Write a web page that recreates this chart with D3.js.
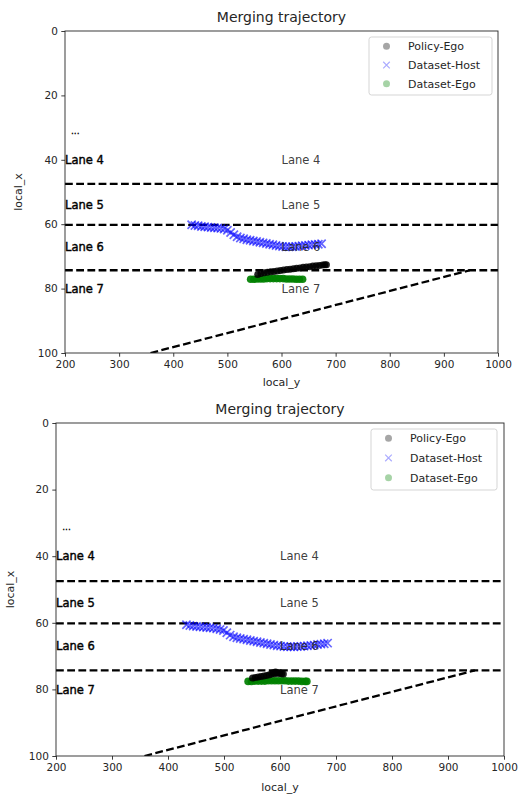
<!DOCTYPE html>
<html>
<head>
<meta charset="utf-8">
<script src="https://cdn.jsdelivr.net/npm/d3@7"></script>
<style>
  html, body { margin: 0; padding: 0; background: #fff; }
  svg { display: block; font-family: "DejaVu Sans", sans-serif; }
</style>
</head>
<body>
<svg id="chart" width="519" height="796"></svg>
<script>
// ---- data ----
const xTicks = [200, 300, 400, 500, 600, 700, 800, 900, 1000];
const yTicks = [0, 20, 40, 60, 80, 100];
const laneNames = ["Lane 4", "Lane 5", "Lane 6", "Lane 7"];
const laneLabelX = [40, 54, 67, 80];
const laneBoundaries = [47.5, 60.2, 74.3];
const rampY = [358, 948];
const rampX = [100, 74.3];
const seriesNames = ["Policy-Ego", "Dataset-Host", "Dataset-Ego"];

// first run
const topHostY = [434, 440, 446, 452, 458, 464, 470, 476, 482, 488, 494, 500, 506, 512, 518, 524, 530, 536, 542, 548, 554, 560, 566, 572, 578, 584, 590, 596, 602, 608, 614, 620, 626, 632, 638, 644, 650, 656, 662, 668, 674];
const topHostX = [60.2, 60.4, 60.5, 60.7, 60.8, 60.9, 61.0, 61.1, 61.2, 61.3, 61.5, 61.9, 62.6, 63.3, 63.9, 64.3, 64.5, 64.8, 65.0, 65.2, 65.4, 65.6, 65.8, 66.0, 66.2, 66.4, 66.6, 66.8, 66.9, 67.0, 67.0, 67.0, 66.9, 66.8, 66.7, 66.6, 66.5, 66.4, 66.3, 66.2, 66.1];
const topEgoY = [543, 549, 555, 561, 567, 573, 579, 585, 591, 597, 603, 609, 615, 621, 627, 633, 639];
const topEgoX = [77.1, 77.1, 77.0, 77.0, 77.0, 76.9, 76.9, 76.9, 76.9, 76.9, 76.9, 77.0, 77.0, 77.0, 77.1, 77.1, 77.1];
const topPolicyY = [556, 562, 568, 574, 580, 586, 592, 598, 604, 610, 616, 622, 628, 634, 640, 646, 652, 658, 664, 670, 676, 680, 683];
const topPolicyX = [75.6, 75.3, 75.1, 74.9, 74.8, 74.7, 74.5, 74.4, 74.2, 74.1, 74.0, 73.8, 73.7, 73.6, 73.4, 73.3, 73.2, 73.0, 72.9, 72.8, 72.7, 72.6, 72.6];

// second run
const botHostY = [433, 439, 445, 451, 457, 463, 469, 475, 481, 487, 493, 499, 505, 511, 517, 523, 529, 535, 541, 547, 553, 559, 565, 571, 577, 583, 589, 595, 601, 607, 613, 619, 625, 631, 637, 643, 649, 655, 661, 667, 673, 679, 685];
const botHostX = [60.6, 60.8, 61.0, 61.1, 61.2, 61.3, 61.4, 61.5, 61.6, 61.8, 62.0, 62.3, 63.0, 63.7, 64.2, 64.5, 64.7, 64.9, 65.1, 65.3, 65.5, 65.7, 65.9, 66.1, 66.3, 66.5, 66.7, 66.9, 67.0, 67.1, 67.2, 67.2, 67.2, 67.1, 67.1, 67.0, 66.9, 66.8, 66.7, 66.5, 66.4, 66.3, 66.1];
const botEgoY = [543, 549, 555, 561, 567, 573, 579, 585, 591, 597, 603, 609, 615, 621, 627, 633, 639, 645, 648];
const botEgoX = [77.6, 77.6, 77.5, 77.5, 77.5, 77.5, 77.4, 77.4, 77.4, 77.4, 77.4, 77.4, 77.5, 77.5, 77.5, 77.5, 77.6, 77.6, 77.6];
const botPolicyY = [551, 556, 561, 566, 571, 576, 581, 585, 588, 590, 592, 594, 596, 598, 600, 603, 606];
const botPolicyX = [76.6, 76.4, 76.3, 76.1, 76.0, 75.8, 75.6, 75.4, 75.0, 75.3, 74.8, 75.1, 74.9, 75.2, 75.0, 75.3, 75.4];

// ---- layout of the two panels ----
const panels = [
  { left: 65, right: 498, top: 31, bottom: 353, titleY: 22, ylabelX: 22, xlabelY: 386,
    legend: { x: 369, y: 37, w: 123, h: 58 },
    host: [topHostY, topHostX], ego: [topEgoY, topEgoX], policy: [topPolicyY, topPolicyX] },
  { left: 56, right: 504, top: 423, bottom: 756, titleY: 414, ylabelX: 14, xlabelY: 791,
    legend: { x: 371, y: 429, w: 126, h: 61 },
    host: [botHostY, botHostX], ego: [botEgoY, botEgoX], policy: [botPolicyY, botPolicyX] }
];

const svg = d3.select("#chart");
const ink = "#262626";

panels.forEach((p, i) => {
  const x = d3.scaleLinear().domain([200, 1000]).range([p.left, p.right]);
  const y = d3.scaleLinear().domain([0, 100]).range([p.top, p.bottom]);
  const g = svg.append("g");

  const clipId = "clip" + i;
  g.append("clipPath").attr("id", clipId)
    .append("rect").attr("x", p.left).attr("y", p.top)
    .attr("width", p.right - p.left).attr("height", p.bottom - p.top);

  const plot = g.append("g").attr("clip-path", `url(#${clipId})`);

  // lane boundaries
  plot.selectAll("line.bound").data(laneBoundaries).join("line")
    .attr("class", "bound")
    .attr("x1", x(200)).attr("x2", x(1000))
    .attr("y1", d => y(d)).attr("y2", d => y(d))
    .attr("stroke", "#000").attr("stroke-width", 2.3)
    .attr("stroke-dasharray", "7.8,3.4");

  // on-ramp edge
  plot.append("line")
    .attr("x1", x(rampY[0])).attr("y1", y(rampX[0]))
    .attr("x2", x(rampY[1])).attr("y2", y(rampX[1]))
    .attr("stroke", "#000").attr("stroke-width", 2.3)
    .attr("stroke-dasharray", "7.8,3.4");

  // lane labels on the left edge (heavy)
  g.selectAll("text.laneL").data(laneNames).join("text")
    .attr("class", "laneL")
    .attr("x", x(200)).attr("y", (d, k) => y(laneLabelX[k]))
    .attr("dy", "0.36em")
    .attr("font-size", 11.5).attr("fill", "#000")
    .attr("stroke", "#000").attr("stroke-width", 0.4)
    .text(d => d);
  g.append("text")
    .attr("x", x(211)).attr("y", y(32))
    .attr("font-size", 9).attr("fill", "#000")
    .attr("stroke", "#000").attr("stroke-width", 0.3)
    .text("...");

  // trajectories
  const host = d3.zip(p.host[0], p.host[1]);
  const ego = d3.zip(p.ego[0], p.ego[1]);
  const policy = d3.zip(p.policy[0], p.policy[1]);

  plot.selectAll("circle.ego").data(ego).join("circle")
    .attr("class", "ego")
    .attr("cx", d => x(d[0])).attr("cy", d => y(d[1])).attr("r", 3.8)
    .attr("fill", "#008000").attr("fill-opacity", 0.92);

  plot.selectAll("circle.policy").data(policy).join("circle")
    .attr("class", "policy")
    .attr("cx", d => x(d[0])).attr("cy", d => y(d[1])).attr("r", 3.5)
    .attr("fill", "#000").attr("fill-opacity", 0.85);

  const cross = d3.symbol().type(d3.symbolX).size(46);
  plot.selectAll("path.host").data(host).join("path")
    .attr("class", "host")
    .attr("transform", d => `translate(${x(d[0])},${y(d[1])})`)
    .attr("d", cross)
    .attr("fill", "none").attr("stroke", "#0000ff")
    .attr("stroke-opacity", 0.6).attr("stroke-width", 1.7);

  // middle lane labels
  g.selectAll("text.laneM").data(laneNames).join("text")
    .attr("class", "laneM")
    .attr("x", x(600)).attr("y", (d, k) => y(laneLabelX[k]))
    .attr("dy", "0.36em")
    .attr("font-size", 11.5).attr("fill", ink).attr("fill-opacity", 0.9)
    .text(d => d);

  // axes
  const xAxis = d3.axisBottom(x).tickValues(xTicks).tickFormat(d3.format("d"))
    .tickSize(3.7).tickPadding(3.5);
  const yAxis = d3.axisLeft(y).tickValues(yTicks).tickFormat(d3.format("d"))
    .tickSize(3.7).tickPadding(3.5);
  const gx = g.append("g").attr("transform", `translate(0,${p.bottom})`).call(xAxis);
  const gy = g.append("g").attr("transform", `translate(${p.left},0)`).call(yAxis);
  [gx, gy].forEach(a => {
    a.select(".domain").remove();
    a.selectAll("line").attr("stroke", ink).attr("stroke-width", 0.9);
    a.selectAll("text").attr("font-size", 10.5).attr("fill", ink)
      .attr("font-family", "DejaVu Sans, sans-serif");
  });

  // frame
  g.append("rect")
    .attr("x", p.left).attr("y", p.top)
    .attr("width", p.right - p.left).attr("height", p.bottom - p.top)
    .attr("fill", "none").attr("stroke", ink).attr("stroke-width", 0.9);

  // title and axis labels
  g.append("text")
    .attr("x", (p.left + p.right) / 2).attr("y", p.titleY)
    .attr("text-anchor", "middle").attr("font-size", 14).attr("fill", ink)
    .text("Merging trajectory");
  g.append("text")
    .attr("x", (p.left + p.right) / 2).attr("y", p.xlabelY)
    .attr("text-anchor", "middle").attr("font-size", 11).attr("fill", ink)
    .text("local_y");
  g.append("text")
    .attr("transform", `translate(${p.ylabelX},${(p.top + p.bottom) / 2}) rotate(-90)`)
    .attr("text-anchor", "middle").attr("font-size", 11).attr("fill", ink)
    .text("local_x");

  // legend
  const L = p.legend;
  const lg = g.append("g");
  lg.append("rect")
    .attr("x", L.x).attr("y", L.y).attr("width", L.w).attr("height", L.h)
    .attr("rx", 2.5).attr("fill", "#fff").attr("fill-opacity", 0.8)
    .attr("stroke", "#d0d0d0").attr("stroke-width", 0.9);
  const rowH = L.h / 3.1;
  seriesNames.forEach((name, k) => {
    const cy = L.y + 9.3 + k * rowH;
    const mx = L.x + 17.5;
    if (k === 1) {
      lg.append("path")
        .attr("transform", `translate(${mx},${cy})`)
        .attr("d", d3.symbol().type(d3.symbolX).size(30))
        .attr("fill", "none").attr("stroke", "#0000ff")
        .attr("stroke-opacity", 0.33).attr("stroke-width", 1.2);
    } else {
      lg.append("circle").attr("cx", mx).attr("cy", cy).attr("r", 3.5)
        .attr("fill", k === 0 ? "#000" : "#008000").attr("fill-opacity", 0.35);
    }
    lg.append("text")
      .attr("x", L.x + 39).attr("y", cy).attr("dy", "0.36em")
      .attr("font-size", 11).attr("fill", ink)
      .text(name);
  });
});
</script>
</body>
</html>
